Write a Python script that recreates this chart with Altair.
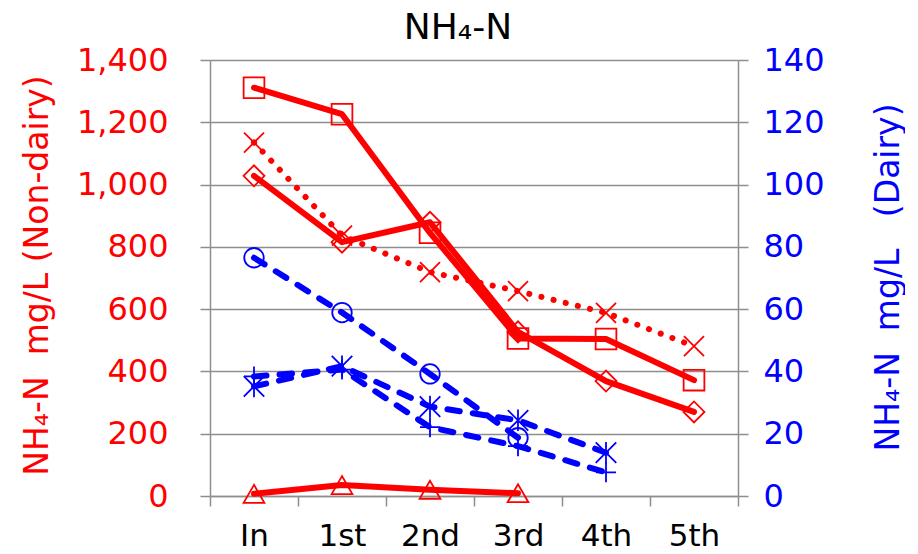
import altair as alt
import pandas as pd

categories = ["In", "1st", "2nd", "3rd", "4th", "5th"]

# Non-dairy (left axis, mg/L)
red_square = [1311, 1226, 845, 506, 504, 372]
red_cross = [1135, 836, 719, 658, 588, 481]
red_diamond = [1028, 815, 879, 527, 369, 270]
red_triangle = [7, 35, 20, 9]

# Dairy (right axis, mg/L)
blue_circle = [76.5, 58.9, 39.2, 18.7]
blue_star = [35.2, 41.7, 28.7, 24.3, 13.9]
blue_plus = [38.4, 40.6, 22.1, 16.0, 7.6]

RED = "#FF0000"
BLUE = "#0000FF"
GRAY = "#8E8E8E"
FONT = "DejaVu Sans"

X_PATH = "M-1,-1L1,1M-1,1L1,-1"
STAR_PATH = "M-1,-1L1,1M-1,1L1,-1M0,-1.05L0,1.05"
PLUS_PATH = "M-1,0L1,0M0,-1L0,1"


def frame(vals):
    return pd.DataFrame({"cat": categories[: len(vals)], "v": vals})


xenc = alt.X(
    "cat:N",
    sort=categories,
    scale=alt.Scale(type="band", domain=categories, paddingInner=0, paddingOuter=0),
    axis=alt.Axis(
        title=None,
        labelFont=FONT,
        labelFontSize=31,
        labelColor="#000000",
        labelAngle=0,
        labelPadding=15,
        tickBand="extent",
        tickColor=GRAY,
        tickWidth=1.5,
        tickSize=10,
        domainColor=GRAY,
        domainWidth=1.5,
        grid=False,
    ),
)

left_axis = alt.Axis(
    title="NH\u2084-N\u00a0\u00a0mg/L (Non-dairy)",
    titleFont=FONT,
    titleFontSize=33,
    titleFontWeight="normal",
    titleColor=RED,
    titleAngle=270,
    titleX=-173,
    titleY=215,
    titleAlign="center",
    titleBaseline="middle",
    labelFont=FONT,
    labelFontSize=32,
    labelColor=RED,
    labelPadding=32,
    format=",.0f",
    values=[0, 200, 400, 600, 800, 1000, 1200, 1400],
    tickColor=GRAY,
    tickWidth=1.5,
    tickSize=10,
    domainColor=GRAY,
    domainWidth=1.5,
    grid=True,
    gridColor=GRAY,
    gridWidth=1.5,
    orient="left",
)

right_axis = alt.Axis(
    title="NH\u2084-N\u00a0\u00a0mg/L\u00a0\u00a0\u00a0(Dairy)",
    titleFont=FONT,
    titleFontSize=33,
    titleFontWeight="normal",
    titleColor=BLUE,
    titleAngle=270,
    titleX=150,
    titleY=217,
    titleAlign="center",
    titleBaseline="middle",
    labelFont=FONT,
    labelFontSize=32,
    labelColor=BLUE,
    labelPadding=15,
    format=".0f",
    values=[0, 20, 40, 60, 80, 100, 120, 140],
    tickColor=GRAY,
    tickWidth=1.5,
    tickSize=10,
    domainColor=GRAY,
    domainWidth=1.5,
    grid=False,
    orient="right",
)


def series(vals, color, path, size, dash, yscale, axis):
    df = frame(vals)
    y = alt.Y("v:Q", scale=yscale, axis=axis)
    line_kwargs = dict(color=color, strokeWidth=6, strokeCap="round", strokeJoin="round")
    if dash is not None:
        line_kwargs["strokeDash"] = dash
    line = alt.Chart(df).mark_line(**line_kwargs).encode(x=xenc, y=y)
    pts = alt.Chart(df).mark_point(
        shape=path, size=size, filled=False, color=color, strokeWidth=1.8, opacity=1
    ).encode(x=xenc, y=y)
    return [line, pts]


lscale = alt.Scale(domain=[0, 1400], nice=False, zero=True)
rscale = alt.Scale(domain=[0, 140], nice=False, zero=True)

left_layers = []
left_layers += series(red_square, RED, "square", 430, None, lscale, left_axis)
left_layers += series(red_cross, RED, X_PATH, 400, [0.1, 12.4], lscale, left_axis)
left_layers += series(red_diamond, RED, "diamond", 440, None, lscale, left_axis)
left_layers += series(red_triangle, RED, "triangle-up", 430, None, lscale, left_axis)

right_layers = []
right_layers += series(blue_circle, BLUE, "circle", 380, [12.5, 13.1], rscale, right_axis)
right_layers += series(blue_star, BLUE, STAR_PATH, 420, [12.5, 13.1], rscale, right_axis)
right_layers += series(blue_plus, BLUE, PLUS_PATH, 400, [12.5, 13.1], rscale, right_axis)

left = alt.layer(*left_layers)
right = alt.layer(*right_layers)

chart = (
    alt.layer(left, right)
    .resolve_scale(y="independent")
    .properties(
        width=528,
        height=436,
        title=alt.TitleParams(
            "NH\u2084-N",
            font=FONT,
            fontSize=36,
            fontWeight="normal",
            color="#000000",
            anchor="middle",
            frame="group",
            baseline="alphabetic",
            offset=-31,
            dx=-16,
        ),
        padding={"left": 13, "top": 2, "right": 0, "bottom": 0},
    )
    .configure_view(stroke=None)
    .configure(background="#FFFFFF")
)

chart.save("out.html", embed_options={"renderer": "svg", "actions": False})
